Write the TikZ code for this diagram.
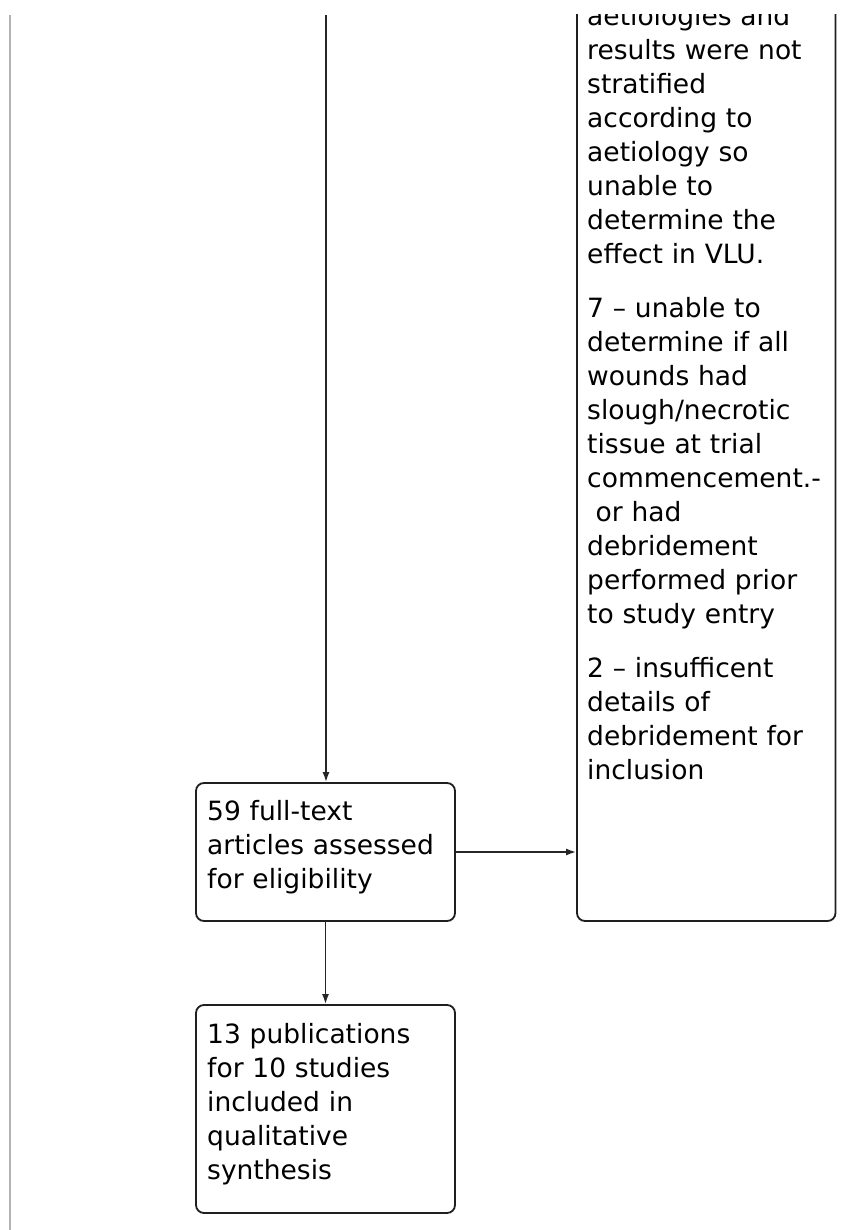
\documentclass[tikz,border=0pt]{standalone}
\usepackage{fontspec}
\setmainfont{DejaVu Sans}
\usetikzlibrary{arrows.meta}
\begin{document}
\begin{tikzpicture}[x=1pt,y=-1pt,
  boxshape/.style={draw=black!88, line width=1.8pt, rounded corners=8pt, inner sep=0pt},
  boxtext/.style={inner sep=0pt, anchor=base west, align=left, text width=250pt,
    font=\fontsize{26.5}{34}\selectfont, text=black},
  conn/.style={draw=black!85, line width=1.6pt, -{Latex[length=10pt,width=7pt]}},
  margline/.style={draw=black!30, line width=2.5pt}]
\useasboundingbox (0,0) rectangle (851,1230);
% left margin rule
\coordinate (mtop) at (10,15);
\coordinate (mbot) at (10,1230);
\draw[margline] (mtop) -- (mbot);
% boxes
\node[boxshape, minimum width=259pt, minimum height=138pt] (full) at (325.5,852) {};
\node[boxtext] (fulltxt) at (207,820) {59 full-text\\articles assessed\\for eligibility};
\node[boxshape, minimum width=259pt, minimum height=208pt] (incl) at (325.5,1109) {};
\node[boxtext] (incltxt) at (207,1043) {13 publications\\for 10 studies\\included in\\qualitative\\synthesis};
\begin{scope}
\clip (0,15) rectangle (851,1230);
\node[boxshape, minimum width=258.5pt, minimum height=1021pt] (excl) at (706.25,410.5) {};
\node[boxtext] (excltxt) at (587,26) {aetiologies and\\results were not\\stratified\\according to\\aetiology so\\unable to\\determine the\\effect in VLU.\\[20pt]%
7 – unable to\\determine if all\\wounds had\\slough/necrotic\\tissue at trial\\commencement.-\\\hspace*{0.32em}or had\\debridement\\performed prior\\to study entry\\[20pt]%
2 – insufficent\\details of\\debridement for\\inclusion};
\end{scope}
% connectors
\coordinate (flowtop) at (326,15);
\draw[conn] (flowtop) -- (flowtop |- full.north);
\draw[conn] (full.south) -- (incl.north);
\draw[conn] (full.east) -- (full.east -| excl.west);
\end{tikzpicture}
\end{document}
